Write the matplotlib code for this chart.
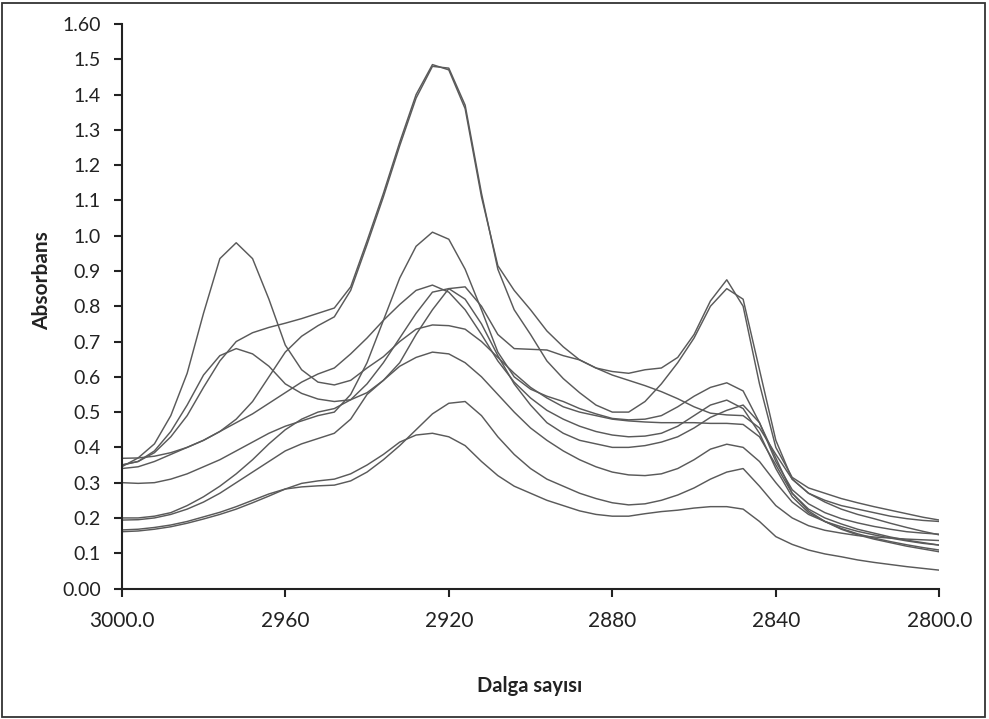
import matplotlib
matplotlib.use("Agg")
import matplotlib.pyplot as plt
from matplotlib.patches import Rectangle

plt.rcParams['font.family'] = ['Lato', 'DejaVu Sans']

# Wavenumber grid (cm-1)
wavenumber = [3000, 2996, 2992, 2988, 2984, 2980, 2976, 2972, 2968, 2964,
              2960, 2956, 2952, 2948, 2944, 2940, 2936, 2932, 2928, 2924,
              2920, 2916, 2912, 2908, 2904, 2900, 2896, 2892, 2888, 2884,
              2880, 2876, 2872, 2868, 2864, 2860, 2856, 2852, 2848, 2844,
              2840, 2836, 2832, 2828, 2824, 2820, 2816, 2812, 2808, 2804, 2800]

spec_big1 = [0.350, 0.360, 0.385, 0.430, 0.490, 0.570, 0.645, 0.700, 0.725, 0.740,
             0.752, 0.765, 0.780, 0.795, 0.855, 0.985, 1.120, 1.265, 1.400, 1.485,
             1.470, 1.360, 1.110, 0.915, 0.845, 0.790, 0.730, 0.685, 0.648, 0.625,
             0.615, 0.610, 0.620, 0.625, 0.655, 0.720, 0.815, 0.875, 0.800, 0.580,
             0.400, 0.315, 0.285, 0.270, 0.255, 0.243, 0.232, 0.222, 0.212, 0.202, 0.194]

spec_big2 = [0.340, 0.345, 0.360, 0.380, 0.400, 0.420, 0.445, 0.480, 0.530, 0.600,
             0.670, 0.715, 0.745, 0.770, 0.845, 0.975, 1.110, 1.255, 1.390, 1.480,
             1.475, 1.370, 1.120, 0.905, 0.790, 0.720, 0.645, 0.595, 0.555, 0.520,
             0.500, 0.500, 0.530, 0.580, 0.640, 0.710, 0.800, 0.850, 0.820, 0.620,
             0.420, 0.310, 0.270, 0.245, 0.225, 0.210, 0.198, 0.185, 0.173, 0.162, 0.152]

spec_a = [0.345, 0.370, 0.410, 0.490, 0.610, 0.780, 0.935, 0.980, 0.935, 0.820,
          0.690, 0.620, 0.585, 0.577, 0.590, 0.625, 0.657, 0.700, 0.735, 0.747,
          0.745, 0.735, 0.700, 0.655, 0.610, 0.570, 0.540, 0.515, 0.500, 0.490,
          0.480, 0.475, 0.472, 0.470, 0.470, 0.470, 0.468, 0.468, 0.465, 0.430,
          0.350, 0.270, 0.225, 0.200, 0.183, 0.168, 0.157, 0.146, 0.137, 0.130, 0.123]

spec_b = [0.350, 0.360, 0.390, 0.445, 0.520, 0.605, 0.660, 0.680, 0.665, 0.630,
          0.580, 0.553, 0.537, 0.530, 0.535, 0.555, 0.590, 0.640, 0.720, 0.790,
          0.850, 0.855, 0.800, 0.720, 0.680, 0.678, 0.676, 0.660, 0.648, 0.625,
          0.605, 0.590, 0.575, 0.558, 0.538, 0.515, 0.497, 0.492, 0.490, 0.455,
          0.380, 0.310, 0.270, 0.250, 0.235, 0.225, 0.215, 0.205, 0.198, 0.193, 0.190]

spec_c = [0.369, 0.370, 0.375, 0.385, 0.400, 0.420, 0.445, 0.470, 0.495, 0.525,
          0.555, 0.585, 0.608, 0.625, 0.665, 0.710, 0.760, 0.805, 0.845, 0.860,
          0.840, 0.790, 0.720, 0.645, 0.585, 0.540, 0.505, 0.480, 0.460, 0.445,
          0.435, 0.430, 0.432, 0.440, 0.460, 0.490, 0.520, 0.534, 0.510, 0.440,
          0.340, 0.260, 0.215, 0.190, 0.170, 0.155, 0.143, 0.133, 0.124, 0.116, 0.109]

spec_d = [0.300, 0.298, 0.300, 0.310, 0.325, 0.345, 0.365, 0.390, 0.415, 0.440,
          0.460, 0.475, 0.490, 0.500, 0.550, 0.640, 0.760, 0.880, 0.970, 1.010,
          0.990, 0.905, 0.790, 0.670, 0.600, 0.565, 0.545, 0.530, 0.510, 0.495,
          0.482, 0.478, 0.480, 0.490, 0.515, 0.545, 0.570, 0.583, 0.560, 0.470,
          0.360, 0.280, 0.240, 0.215, 0.198, 0.186, 0.176, 0.168, 0.161, 0.157, 0.154]

spec_e = [0.200, 0.200, 0.205, 0.215, 0.235, 0.260, 0.290, 0.325, 0.365, 0.410,
          0.450, 0.480, 0.500, 0.510, 0.535, 0.580, 0.640, 0.710, 0.780, 0.840,
          0.850, 0.820, 0.750, 0.660, 0.580, 0.520, 0.470, 0.440, 0.420, 0.410,
          0.400, 0.400, 0.405, 0.415, 0.430, 0.455, 0.485, 0.505, 0.520, 0.470,
          0.370, 0.270, 0.220, 0.190, 0.168, 0.152, 0.140, 0.130, 0.120, 0.112, 0.104]

spec_f = [0.194, 0.195, 0.200, 0.210, 0.225, 0.245, 0.270, 0.300, 0.330, 0.360,
          0.390, 0.410, 0.425, 0.440, 0.480, 0.550, 0.590, 0.630, 0.655, 0.670,
          0.665, 0.640, 0.600, 0.550, 0.500, 0.455, 0.420, 0.390, 0.365, 0.345,
          0.330, 0.322, 0.320, 0.325, 0.340, 0.365, 0.395, 0.409, 0.400, 0.360,
          0.300, 0.245, 0.210, 0.190, 0.175, 0.162, 0.152, 0.143, 0.135, 0.128, 0.123]

spec_g = [0.161, 0.163, 0.168, 0.175, 0.185, 0.197, 0.210, 0.225, 0.243, 0.262,
          0.282, 0.298, 0.305, 0.310, 0.325, 0.350, 0.380, 0.415, 0.435, 0.440,
          0.430, 0.405, 0.360, 0.320, 0.290, 0.270, 0.250, 0.235, 0.220, 0.210,
          0.205, 0.205, 0.212, 0.218, 0.222, 0.228, 0.232, 0.232, 0.225, 0.190,
          0.147, 0.125, 0.109, 0.098, 0.090, 0.081, 0.074, 0.068, 0.062, 0.057, 0.052]

spec_h = [0.166, 0.168, 0.173, 0.180, 0.190, 0.203, 0.216, 0.232, 0.250, 0.268,
          0.282, 0.288, 0.291, 0.293, 0.305, 0.330, 0.365, 0.405, 0.450, 0.495,
          0.525, 0.530, 0.490, 0.430, 0.380, 0.340, 0.310, 0.290, 0.270, 0.255,
          0.243, 0.237, 0.240, 0.250, 0.265, 0.285, 0.310, 0.330, 0.340, 0.290,
          0.235, 0.200, 0.178, 0.165, 0.157, 0.150, 0.146, 0.143, 0.140, 0.138, 0.136]

spectra = [spec_big1, spec_big2, spec_a, spec_b, spec_c, spec_d, spec_e, spec_f, spec_g, spec_h]

y_ticks = [0.0, 0.1, 0.2, 0.3, 0.4, 0.5, 0.6, 0.7, 0.8, 0.9, 1.0, 1.1, 1.2, 1.3, 1.4, 1.5, 1.6]
y_tick_labels = ["0.00", "0.1", "0.2", "0.3", "0.4", "0.5", "0.6", "0.7", "0.8",
                 "0.9", "1.0", "1.1", "1.2", "1.3", "1.4", "1.5", "1.60"]
x_ticks = [3000, 2960, 2920, 2880, 2840, 2800]
x_tick_labels = ["3000.0", "2960", "2920", "2880", "2840", "2800.0"]

fig = plt.figure(figsize=(9.89, 7.19), dpi=100)
ax = fig.add_axes([0.1231, 0.1815, 0.8267, 0.7851])

for s in spectra:
    ax.plot(wavenumber, s, color='#5a5a5a', lw=1.05)

ax.set_xlim(3000, 2800)
ax.set_ylim(0, 1.6)
ax.set_xticks(x_ticks)
ax.set_xticklabels(x_tick_labels)
ax.set_yticks(y_ticks)
ax.set_yticklabels(y_tick_labels)

for sp in ['top', 'right']:
    ax.spines[sp].set_visible(False)
for sp in ['left', 'bottom']:
    ax.spines[sp].set_linewidth(1.5)
    ax.spines[sp].set_color('#222222')

ax.tick_params(axis='both', direction='out', length=6, width=1.5, color='#222222',
               labelcolor='#222222')
ax.tick_params(axis='x', pad=10, labelsize=15)
ax.tick_params(axis='y', pad=9, labelsize=14)

fig.text(42 / 989, 1 - 281 / 719, "Absorbans", rotation=90, ha='center', va='center',
         fontsize=15, fontweight='bold', color='#222222')
fig.text(530 / 989, 1 - 686 / 719, "Dalga sayısı", ha='center', va='center',
         fontsize=14.5, fontweight='bold', color='#222222')

fig.patches.append(Rectangle((2 / 989, 2 / 719), 983 / 989, 714 / 719,
                             transform=fig.transFigure, fill=False,
                             edgecolor='#333333', linewidth=1.3))

fig.savefig("out.png", dpi=100)
